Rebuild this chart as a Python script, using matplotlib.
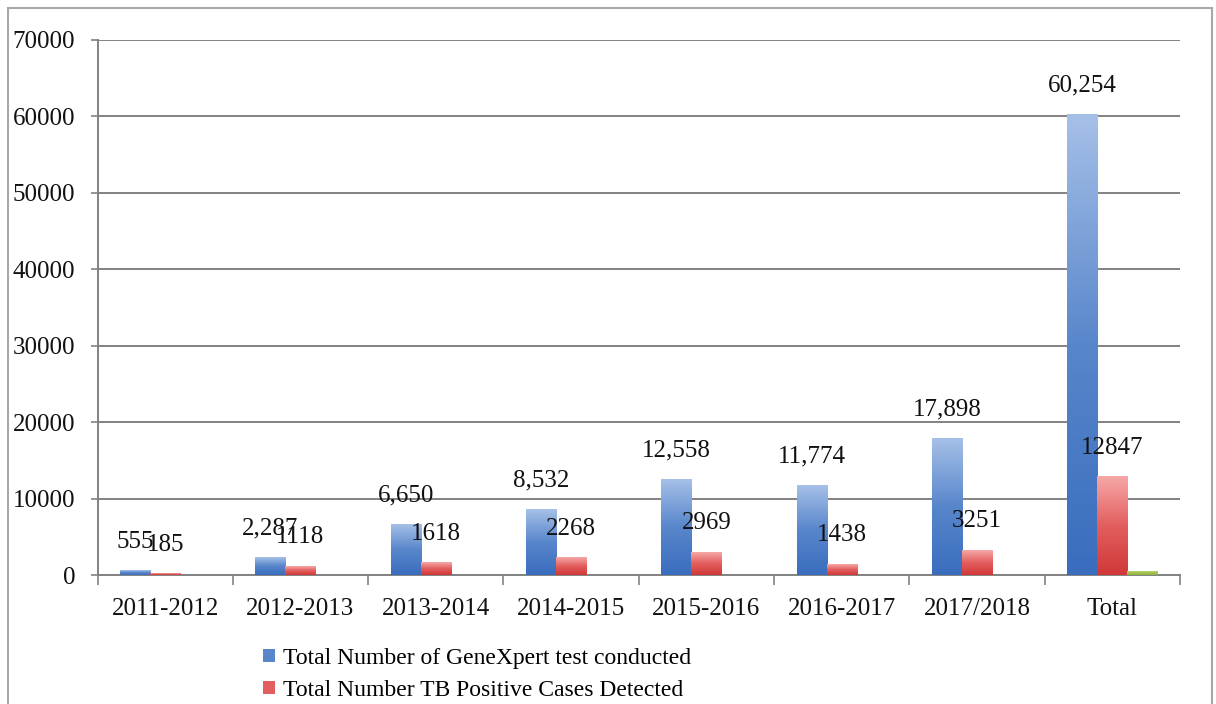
import matplotlib.pyplot as plt
import numpy as np
from matplotlib.colors import LinearSegmentedColormap
from matplotlib.patches import Patch, Rectangle

plt.rcParams['font.family'] = ['Liberation Serif', 'DejaVu Serif']

years = ["2011-2012", "2012-2013", "2013-2014", "2014-2015",
         "2015-2016", "2016-2017", "2017/2018", "Total"]
tests = [555, 2287, 6650, 8532, 12558, 11774, 17898, 60254]
positives = [185, 1118, 1618, 2268, 2969, 1438, 3251, 12847]
third = [0, 0, 0, 0, 0, 0, 0, 450]  # tiny green series, legend entry is cut off
test_labels = ["555", "2,287", "6,650", "8,532", "12,558", "11,774", "17,898", "60,254"]
positive_labels = ["185", "1118", "1618", "2268", "2969", "1438", "3251", "12847"]

legend_names = ["Total Number of GeneXpert test conducted",
                "Total Number TB Positive Cases Detected"]

W, H = 1216, 704
fig = plt.figure(figsize=(W / 100, H / 100), dpi=100)
ax = fig.add_axes([97.5 / W, (H - 575) / H, (1180 - 97.5) / W, 535 / H])

blue_cmap = LinearSegmentedColormap.from_list("b", ["#3a6dbe", "#5886cb", "#a6c0e8"])
red_cmap = LinearSegmentedColormap.from_list("r", ["#d03838", "#e35e5e", "#f6a8a8"])
green_cmap = LinearSegmentedColormap.from_list("g", ["#8db03a", "#b8d46a"])

grad = np.linspace(0, 1, 256).reshape(-1, 1)
bw = 0.222


def gradient_bars(xs, values, cmap):
    for x, v in zip(xs, values):
        if v <= 0:
            continue
        ax.imshow(grad, cmap=cmap, origin="lower", aspect="auto",
                  extent=(x - bw / 2, x + bw / 2, 0, v), zorder=3)


x = np.arange(len(years))
gradient_bars(x - bw, tests, blue_cmap)
gradient_bars(x, positives, red_cmap)
gradient_bars(x + bw, third, green_cmap)

for xi, v, lab in zip(x - bw, tests, test_labels):
    ax.annotate(lab, (xi, v), xytext=(0, 29), textcoords="offset pixels",
                ha="center", va="center", fontsize=18, color="#111111", zorder=5)
for xi, v, lab in zip(x, positives, positive_labels):
    ax.annotate(lab, (xi, v), xytext=(0, 29), textcoords="offset pixels",
                ha="center", va="center", fontsize=18, color="#111111", zorder=5)

ax.set_xlim(-0.5, len(years) - 0.5)
ax.set_ylim(0, 70000)
ax.set_yticks(range(0, 70001, 10000))
ax.set_yticklabels([str(v) for v in range(0, 70001, 10000)])
ax.set_xticks(x)
ax.set_xticklabels(years)
ax.set_xticks(np.arange(-0.5, len(years)), minor=True)
ax.tick_params(axis="x", which="major", length=0, pad=16.5, labelsize=18, colors="#111111")
ax.tick_params(axis="x", which="minor", length=7.5, width=1.2, color="#828282")
ax.tick_params(axis="y", length=5, width=1.2, color="#828282", pad=11,
               labelsize=18, labelcolor="#111111")

ax.grid(axis="y", color="#828282", linewidth=1.4, zorder=0)
ax.set_axisbelow(True)
for side in ["top", "right"]:
    ax.spines[side].set_visible(False)
for side in ["left", "bottom"]:
    ax.spines[side].set_color("#828282")
    ax.spines[side].set_linewidth(1.4)

handles = [Patch(facecolor="#5886cb"), Patch(facecolor="#e35e5e")]
fig.legend(handles, legend_names, loc="upper left",
           bbox_to_anchor=(263 / W, 1 - 648 / H), frameon=False, fontsize=17,
           handlelength=0.5, handleheight=0.5, handletextpad=0.35,
           borderpad=0, borderaxespad=0, labelspacing=0.45)

# outer chart frame, bottom edge runs off the picture
fig.patches.append(Rectangle((8 / W, -0.2), (1212 - 8) / W, 1.2 - 8 / H,
                             transform=fig.transFigure, fill=False,
                             edgecolor="#a8a8a8", linewidth=1.5))

fig.savefig("out.png", dpi=100)
